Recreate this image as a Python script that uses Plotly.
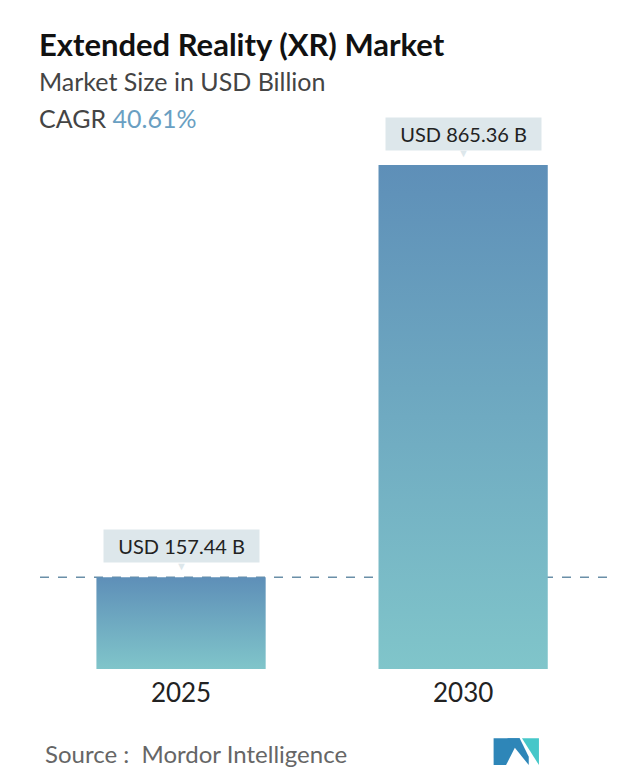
import plotly.graph_objects as go

years = ["2025", "2030"]
values = [157.44, 865.36]
labels = ["USD 157.44 B", "USD 865.36 B"]

fig = go.Figure()

half = 0.3
box = "#dde7eb"
for i, v in enumerate(values):
    fig.add_trace(go.Scatter(
        x=[i - half, i - half, i + half, i + half, i - half],
        y=[0, v, v, 0, 0],
        mode="lines", fill="toself",
        line=dict(width=0),
        fillgradient=dict(type="vertical",
                          colorscale=[[0, "#80c5ca"], [1, "#5e8fb8"]]),
        hoverinfo="skip", showlegend=False,
    ))
    fig.add_annotation(x=i, y=v, text="\u25BC", showarrow=False, yshift=12,
                       font=dict(size=11, color=box))
    fig.add_annotation(x=i, y=v, text="&nbsp;&nbsp;" + labels[i] + "&nbsp;&nbsp;",
                       showarrow=False, yshift=31, bgcolor=box, borderpad=4,
                       font=dict(size=20, color="#222", family="Lato"))

# dashed reference at 2025 level
fig.add_shape(type="line", xref="paper", x0=0, x1=1, y0=values[0], y1=values[0],
              line=dict(color="#6a8fa8", width=1.5, dash="dash"), layer="below")

fig.update_xaxes(range=[-0.5, 1.51], tickvals=[0, 1], ticktext=years,
                 showgrid=False, zeroline=False, showline=False, ticklabelstandoff=6,
                 tickfont=dict(size=26, color="#222", family="Lato"))
fig.update_yaxes(range=[0, 942.6], visible=False)

fig.add_annotation(xref="paper", yref="paper", x=-0.005, y=1.177, xanchor="left",
                   text="<b>Extended Reality (XR) Market</b>", showarrow=False,
                   font=dict(size=31, color="#111", family="Lato"))
fig.add_annotation(xref="paper", yref="paper", x=-0.005, y=1.102, xanchor="left",
                   text="Market Size in USD Billion", showarrow=False,
                   font=dict(size=25, color="#444", family="Lato"))
fig.add_annotation(xref="paper", yref="paper", x=-0.005, y=1.035, xanchor="left",
                   text="CAGR <span style='color:#6a9fc2'>40.61%</span>", showarrow=False,
                   font=dict(size=25, color="#444", family="Lato"))
fig.add_annotation(xref="paper", yref="paper", x=0.005, y=-0.184, xanchor="left",
                   text="Source :  Mordor Intelligence", showarrow=False,
                   font=dict(size=24, color="#666", family="Lato"))

# logo
fig.add_shape(type="path", xref="paper", yref="paper",
              path="M 0.80 -0.126 L 0.80 -0.175 L 0.822 -0.175 L 0.846 -0.126 Z",
              fillcolor="#2e86b8", line_width=0)
fig.add_shape(type="path", xref="paper", yref="paper",
              path="M 0.824 -0.126 L 0.846 -0.126 L 0.862 -0.16 L 0.862 -0.175 Z",
              fillcolor="#2e86b8", line_width=0)
fig.add_shape(type="path", xref="paper", yref="paper",
              path="M 0.85 -0.126 L 0.88 -0.126 L 0.88 -0.175 Z",
              fillcolor="#46c7c9", line_width=0)

fig.update_layout(width=632, height=783, plot_bgcolor="white", paper_bgcolor="white",
                  margin=dict(l=32, r=33, t=112, b=122))
fig.write_html("out.html")
